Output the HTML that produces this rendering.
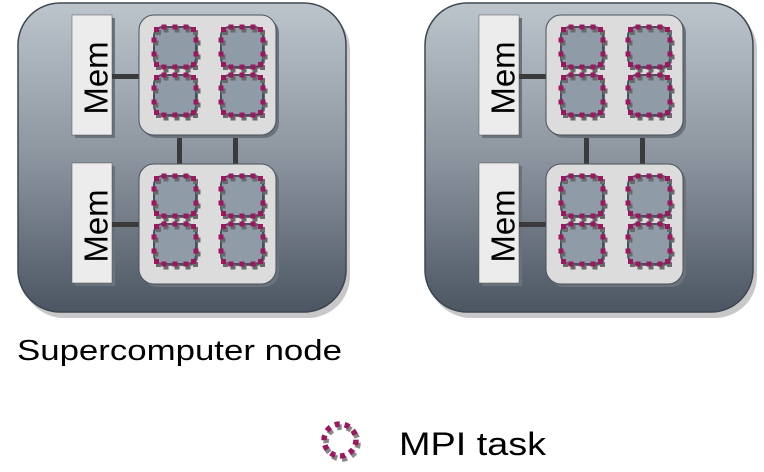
<!DOCTYPE html>
<html><head><style>html,body{margin:0;padding:0;background:#fff;width:764px;height:472px;overflow:hidden}</style></head>
<body>
<svg width="764" height="472" viewBox="0 0 764 472" xmlns="http://www.w3.org/2000/svg">
<defs>
<linearGradient id="g" x1="0" y1="0" x2="0" y2="1">
<stop offset="0" stop-color="#bcc4cc"/><stop offset="0.5" stop-color="#8c959f"/><stop offset="1" stop-color="#4c5663"/>
</linearGradient>
<g id="dots">
<rect x="7.5" y="-2.5" width="5" height="5"/><rect x="18.5" y="-2.5" width="5" height="5"/><rect x="29.5" y="-2.5" width="5" height="5"/>
<rect x="7.5" y="37.5" width="5" height="5"/><rect x="18.5" y="37.5" width="5" height="5"/><rect x="29.5" y="37.5" width="5" height="5"/>
<rect x="-2.5" y="10.5" width="5" height="5"/><rect x="-2.5" y="24.5" width="5" height="5"/>
<rect x="39.5" y="10.5" width="5" height="5"/><rect x="39.5" y="24.5" width="5" height="5"/>
<rect x="0" y="0" width="5" height="5"/><rect x="37" y="0" width="5" height="5"/>
<rect x="0" y="35" width="5" height="5"/><rect x="37" y="35" width="5" height="5"/>
</g>
<g id="core">
<rect x="2" y="2" width="42" height="40" rx="9" fill="#5e6670" />
<rect x="0" y="0" width="42" height="40" rx="9" fill="#8f9ba6" stroke="#46505a" stroke-width="2"/>
<use href="#dots" x="2" y="3" fill="#6a6a6a"/>
<use href="#dots" x="0" y="0" fill="#9b1760"/>
</g>
<g id="chip">
<rect x="3" y="3" width="137" height="120" rx="15" fill="#6a727c"/>
<rect x="0" y="0" width="137" height="120" rx="15" fill="#dcdcdc" stroke="#4a525c" stroke-width="1"/>
<use href="#core" x="15" y="12"/><use href="#core" x="82" y="12"/>
<use href="#core" x="15" y="60"/><use href="#core" x="82" y="60"/>
</g>
<g id="node">
<rect x="4" y="5" width="328" height="310" rx="42" fill="#c8c8c8"/>
<rect x="0" y="0" width="328" height="309" rx="42" fill="url(#g)" stroke="#3e4650" stroke-width="1.5"/>
<rect x="57" y="15" width="40" height="120" fill="#6a727c"/>
<rect x="54" y="12" width="40" height="120" fill="#ececec" stroke="#555" stroke-width="0.5"/>
<rect x="57" y="163" width="40" height="120" fill="#6a727c"/>
<rect x="54" y="160" width="40" height="120" fill="#ececec" stroke="#555" stroke-width="0.5"/>
<rect x="94" y="71" width="27" height="5" fill="#3a3a3a"/>
<rect x="94" y="219" width="27" height="5" fill="#3a3a3a"/>
<rect x="159" y="126" width="5" height="42" fill="#3a3a3a"/>
<rect x="215" y="126" width="5" height="42" fill="#3a3a3a"/>
<use href="#chip" x="121" y="12"/>
<use href="#chip" x="121" y="161"/>
<text transform="translate(78 75) rotate(-90)" text-anchor="middle" dominant-baseline="central" font-family="Liberation Sans, sans-serif" font-size="33" fill="#000">Mem</text>
<text transform="translate(78 223) rotate(-90)" text-anchor="middle" dominant-baseline="central" font-family="Liberation Sans, sans-serif" font-size="33" fill="#000">Mem</text>
</g>
</defs>
<use href="#node" x="18" y="3"/>
<use href="#node" x="425" y="3"/>
<text x="17" y="360" font-family="Liberation Sans, sans-serif" font-size="29" textLength="325" lengthAdjust="spacingAndGlyphs" fill="#000">Supercomputer node</text>
<circle cx="342" cy="443" r="16" fill="none" stroke="#888" stroke-width="5.5" stroke-dasharray="5 5"/>
<circle cx="340" cy="440" r="16" fill="none" stroke="#9b1760" stroke-width="5.5" stroke-dasharray="5 5"/>
<text x="399" y="455" font-family="Liberation Sans, sans-serif" font-size="32" textLength="147" lengthAdjust="spacingAndGlyphs" fill="#000">MPI task</text>
</svg>
</body></html>
